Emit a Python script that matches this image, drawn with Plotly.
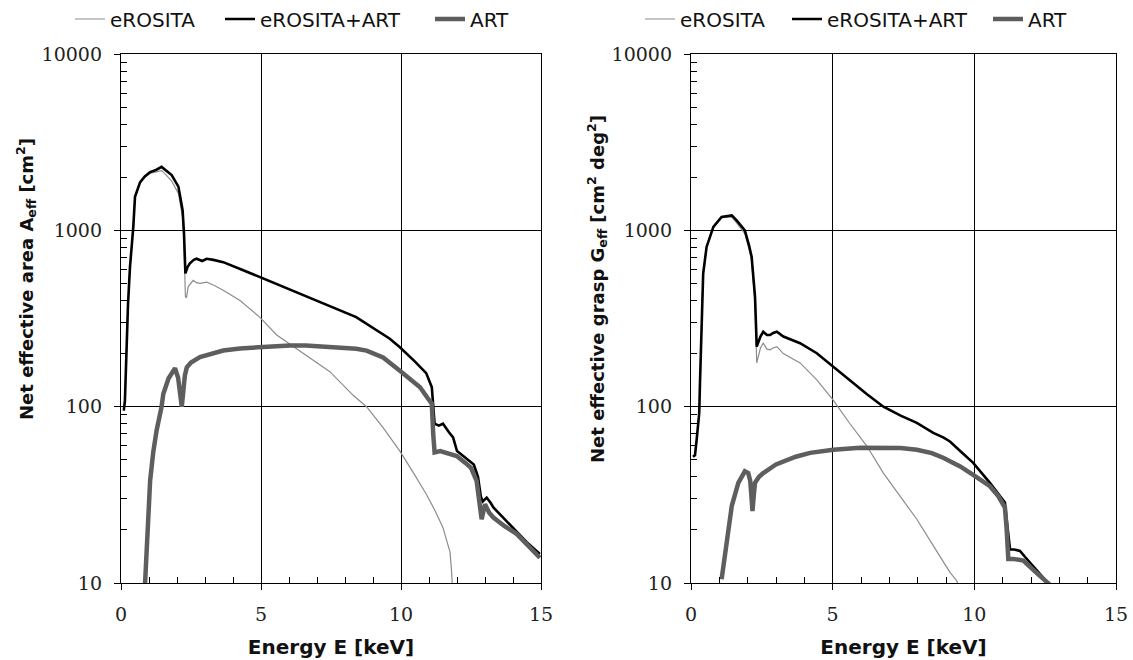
import plotly.graph_objects as go

# ---------------- data ----------------
# Left panel: net effective area [cm^2]
E_comb_L = [0.10, 0.14, 0.25, 0.32, 0.44, 0.50, 0.68, 0.85, 1.04, 1.25, 1.45, 1.60, 1.81, 2.05, 2.15,
            2.20, 2.25, 2.30, 2.38, 2.46, 2.60, 2.70, 2.90, 3.06, 3.30, 3.65, 4.30, 4.96, 6.04, 7.20,
            8.40, 9.60, 9.96, 10.50, 10.90, 11.10, 11.15, 11.20, 11.35, 11.50, 11.70, 11.86, 12.00,
            12.30, 12.60, 12.75, 12.85, 12.92, 13.06, 13.20, 13.30, 13.70, 14.10, 14.50, 14.96]
A_comb_L = [95, 108, 380, 617, 1050, 1550, 1870, 2020, 2140, 2200, 2290, 2200, 2060, 1770, 1450,
            1300, 960, 570, 620, 650, 680, 690, 670, 690, 680, 660, 600, 543, 457, 385,
            322, 243, 217, 180, 155, 129, 99, 80, 78, 80, 72, 67, 56,
            51, 47, 40, 31, 29, 30.5, 28.5, 26.8, 23, 19.7, 17, 14.6]

E_art_L = [0.86, 0.95, 1.04, 1.15, 1.27, 1.45, 1.51, 1.70, 1.93, 2.04, 2.10, 2.17, 2.22, 2.28, 2.35,
           2.50, 2.82, 3.20, 3.65, 4.25, 4.85, 5.50, 6.04, 6.60, 7.20, 7.80, 8.40, 8.77, 9.36, 9.96,
           10.30, 10.68, 10.95, 11.10, 11.15, 11.20, 11.40, 11.70, 11.99, 12.30, 12.50, 12.70, 12.80,
           12.88, 13.00, 13.15, 13.30, 13.70, 14.13, 14.50, 14.96]
A_art_L = [10, 22, 38, 55, 73, 100, 118, 145, 165, 146, 125, 100, 120, 150, 167,
           178, 191, 200, 208, 214, 217, 221, 222, 222, 219, 216, 213, 208, 190, 160,
           145, 129, 112, 104, 70, 55, 56, 54, 52.5, 48, 45, 38, 29,
           23, 28, 25, 23.5, 21, 19, 16.5, 13.9]

E_ero_L = [0.10, 0.14, 0.25, 0.32, 0.44, 0.50, 0.68, 0.85, 1.04, 1.25, 1.45, 1.60, 1.81, 2.05, 2.15,
           2.20, 2.25, 2.30, 2.34, 2.40, 2.58, 2.70, 2.82, 3.06, 3.30, 3.65, 4.25, 4.96, 5.56, 6.00,
           6.63, 7.46, 8.29, 8.77, 9.36, 9.96, 10.45, 10.90, 11.20, 11.50, 11.65, 11.75, 11.80, 11.83]
A_ero_L = [95, 108, 380, 617, 1050, 1550, 1870, 2010, 2100, 2130, 2180, 2070, 1900, 1620, 1330,
           1180, 850, 420, 416, 480, 520, 505, 500, 508, 490, 457, 400, 321, 255, 228,
           195, 158, 116, 100, 76, 56, 42, 32, 26, 20.6, 17, 15, 12, 10]

# Right panel: net effective grasp [cm^2 deg^2]
E_comb_R = [0.07, 0.14, 0.20, 0.29, 0.32, 0.38, 0.43, 0.55, 0.79, 1.08, 1.30, 1.44, 1.61, 1.90, 2.05,
            2.14, 2.26, 2.32, 2.45, 2.55, 2.68, 2.79, 2.90, 3.03, 3.26, 3.85, 4.44, 5.02, 5.61, 6.20,
            6.79, 7.40, 7.97, 8.55, 8.90, 9.14, 9.50, 9.96, 10.55, 11.08, 11.14, 11.20, 11.26, 11.40,
            11.61, 11.80, 11.96, 12.30, 12.60, 12.75]
G_comb_R = [52, 53, 65, 92, 142, 369, 569, 805, 1047, 1190, 1210, 1216, 1138, 1000, 820,
            708, 419, 219, 250, 266, 255, 255, 262, 266, 250, 229, 201, 169, 140, 118,
            100, 89, 81, 71, 67, 63.5, 56, 48, 37, 28.6, 23, 18, 15.5, 15.5,
            15.2, 14, 13.1, 11.4, 10.0, 9.3]

E_art_R = [1.08, 1.26, 1.44, 1.67, 1.90, 2.02, 2.09, 2.14, 2.17, 2.22, 2.26, 2.40, 2.55, 3.00, 3.26,
           3.70, 4.20, 5.02, 5.97, 6.79, 7.40, 7.97, 8.50, 8.90, 9.50, 9.96, 10.55, 10.85, 11.08,
           11.14, 11.20, 11.38, 11.73, 12.10, 12.55, 12.75]
G_art_R = [10.5, 17.7, 27.4, 37, 43, 42, 38, 30, 25.6, 32, 37, 40, 42, 47, 49,
           52, 54.7, 57, 58.5, 58.5, 58.3, 57, 54.5, 51.3, 45.8, 41, 35.4, 31, 26.8,
           20.2, 13.7, 13.7, 13.4, 11.8, 10.3, 9.5]

E_ero_R = [0.07, 0.14, 0.20, 0.29, 0.32, 0.38, 0.43, 0.55, 0.79, 1.08, 1.30, 1.44, 1.61, 1.90, 2.05,
           2.14, 2.26, 2.32, 2.45, 2.55, 2.68, 2.79, 2.90, 3.03, 3.26, 3.85, 4.44, 5.02, 5.61, 6.20,
           6.79, 7.38, 7.97, 8.55, 9.14, 9.38, 9.45]
G_ero_R = [52, 53, 65, 92, 142, 369, 569, 805, 1047, 1180, 1190, 1190, 1102, 957, 778,
           678, 382, 177, 215, 229, 212, 210, 215, 219, 200, 177, 142, 109, 80, 60,
           42, 31, 23, 16.3, 11.5, 10.3, 9.5]

series_names = ["eROSITA", "eROSITA+ART", "ART"]
x_ticks = [0, 5, 10, 15]
x_minor_ticks = [1, 2, 3, 4, 6, 7, 8, 9, 11, 12, 13, 14]
y_ticks = [10, 100, 1000, 10000]
y_minor_ticks = [20, 30, 40, 50, 60, 70, 80, 90,
                 200, 300, 400, 500, 600, 700, 800, 900,
                 2000, 3000, 4000, 5000, 6000, 7000, 8000, 9000]
x_title = "Energy E [keV]"
y_title_L = "Net effective area A<sub>eff</sub> [cm<sup>2</sup>]"
y_title_R = "Net effective grasp G<sub>eff</sub> [cm<sup>2</sup> deg<sup>2</sup>]"

# ---------------- styling ----------------
W, H = 1133, 660
styles = {
    "eROSITA": dict(color="#8c8c8c", width=1.2),
    "eROSITA+ART": dict(color="#000000", width=2.6),
    "ART": dict(color="#5e5e5e", width=4.5),
}
SANS = "DejaVu Sans"
SERIF = "DejaVu Serif"

fig = go.Figure()

panels = [
    ("x", "y", [(E_ero_L, A_ero_L), (E_comb_L, A_comb_L), (E_art_L, A_art_L)], ["legend", "legend2", "legend3"]),
    ("x2", "y2", [(E_ero_R, G_ero_R), (E_comb_R, G_comb_R), (E_art_R, G_art_R)], ["legend4", "legend5", "legend6"]),
]
for xa, ya, data, legs in panels:
    for name, (ex, vy), lg in zip(series_names, data, legs):
        fig.add_trace(go.Scatter(x=ex, y=vy, mode="lines", name=name, line=styles[name],
                                 xaxis=xa, yaxis=ya, legend=lg, showlegend=True))

# legend sample start positions (px) for each item
leg_px = {"legend": 75, "legend2": 225, "legend3": 435,
          "legend4": 645, "legend5": 792, "legend6": 993}
leg_layout = {}
for k, px in leg_px.items():
    leg_layout[k] = dict(x=(px - 5) / W, y=1 - 19 / H, xref="container", yref="container",
                         xanchor="left", yanchor="middle",
                         orientation="h", bgcolor="rgba(0,0,0,0)", borderwidth=0,
                         font=dict(family=SANS, size=20, color="#111"),
                         itemclick=False, itemdoubleclick=False)

def xaxis(domain, anchor):
    return dict(domain=domain, anchor=anchor, range=[0, 15], tickvals=x_ticks, automargin=False,
                showline=True, linecolor="black", linewidth=1.3, mirror=True,
                showgrid=True, gridcolor="black", gridwidth=1, zeroline=False,
                ticks="outside", ticklen=6, tickcolor="black",
                minor=dict(tickmode="array", tickvals=x_minor_ticks, ticks="inside", ticklen=6,
                           tickcolor="black", showgrid=False),
                tickfont=dict(family=SERIF, size=19, color="#222"), ticklabelstandoff=8,
                title=dict(text=x_title, font=dict(family=SANS, size=20, color="#111", weight="bold"),
                           standoff=16))

def yaxis(domain, anchor):
    return dict(domain=domain, anchor=anchor, type="log", range=[1, 4], tickvals=y_ticks,
                ticktext=[str(v) for v in y_ticks], automargin=False,
                showline=True, linecolor="black", linewidth=1.3, mirror=True,
                showgrid=True, gridcolor="black", gridwidth=1, zeroline=False,
                ticks="outside", ticklen=6, tickcolor="black",
                minor=dict(tickmode="array", tickvals=y_minor_ticks, ticks="inside", ticklen=6,
                           tickcolor="black", showgrid=False),
                tickfont=dict(family=SERIF, size=19, color="#222"), ticklabelstandoff=8)

ydom = [(H - 583) / H, (H - 54) / H]
title_font = dict(family=SANS, size=18, color="#111", weight="bold")
fig.update_layout(
    width=W, height=H,
    margin=dict(l=0, r=0, t=0, b=0, autoexpand=False),
    paper_bgcolor="white", plot_bgcolor="white",
    hovermode=False,
    xaxis=xaxis([121 / W, 541 / W], "y"),
    yaxis=yaxis(ydom, "x"),
    xaxis2=xaxis([691 / W, 1116 / W], "y2"),
    yaxis2=yaxis(ydom, "x2"),
    annotations=[
        dict(text=y_title_L, x=26 / W, y=1 - 279 / H, xref="paper", yref="paper", textangle=-90,
             showarrow=False, xanchor="center", yanchor="middle", font=title_font),
        dict(text=y_title_R, x=597 / W, y=1 - 289 / H, xref="paper", yref="paper", textangle=-90,
             showarrow=False, xanchor="center", yanchor="middle", font=title_font),
    ],
    **leg_layout,
)

fig.write_html("out.html", config={"displayModeBar": False},
               post_script="document.body.style.margin='0';document.body.style.overflow='hidden';")
